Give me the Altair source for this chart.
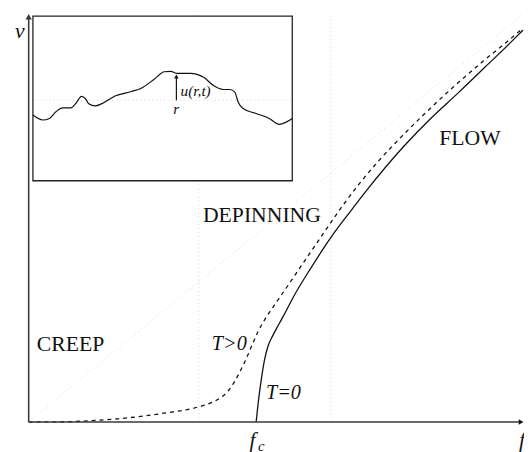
import altair as alt
import pandas as pd

# ---- data (units: f along x, v along y) ----
T_pos_f = [0.0, 0.31, 0.61, 1.01, 1.377, 1.71, 1.86, 1.96, 2.03, 2.09, 2.15, 2.21, 2.27,
           2.33, 2.40, 2.48, 2.57, 2.71, 2.87, 3.03, 3.19, 3.35, 3.53, 3.73, 4.01, 4.31,
           4.61, 4.843, 5.02]
T_pos_v = [0.0, 0.002, 0.012, 0.043, 0.09, 0.15, 0.20, 0.255, 0.32, 0.41, 0.52, 0.645, 0.785,
           0.92, 1.045, 1.165, 1.295, 1.50, 1.735, 1.97, 2.20, 2.41, 2.625, 2.84, 3.12, 3.40,
           3.66, 3.85, 4.00]

T_zero_f = [2.31, 2.335, 2.365, 2.395, 2.43, 2.48, 2.545, 2.61, 2.677, 2.87, 3.08, 3.26,
            3.43, 3.81, 4.08, 4.37, 4.63, 4.89, 5.02]
T_zero_v = [0.0, 0.23, 0.45, 0.63, 0.77, 0.88, 1.0, 1.12, 1.25, 1.57, 1.89, 2.13,
            2.35, 2.80, 3.08, 3.35, 3.60, 3.85, 3.98]

wave_r = [0.043, 0.143, 0.21, 0.277, 0.343, 0.427, 0.477, 0.537, 0.577, 0.61, 0.677,
          0.743, 0.877, 1.043, 1.143, 1.277, 1.377, 1.443, 1.51, 1.643, 1.777, 1.877,
          1.977, 2.043, 2.093, 2.127, 2.177, 2.31, 2.443, 2.543, 2.61, 2.677]
wave_u = [3.117, 3.067, 3.083, 3.15, 3.19, 3.19, 3.233, 3.307, 3.283, 3.233, 3.21,
          3.233, 3.31, 3.357, 3.39, 3.483, 3.557, 3.56, 3.54, 3.54, 3.5, 3.417,
          3.377, 3.377, 3.35, 3.25, 3.183, 3.133, 3.083, 3.023, 3.043, 3.083]

F_MAX = 5.03
V_MAX = 4.15
guide_f = [1.73, 3.07]          # faint vertical guides
inset_box = [0.043, 2.677, 2.45, 4.123]   # f0, f1, v0, v1
inset_base_v = 3.267
inset_arrow_f = 1.5
inset_arrow_top = 3.54

region_labels = ["CREEP", "DEPINNING", "FLOW"]
region_f = [0.083, 1.77, 4.17]
region_v = [0.717, 2.03, 2.817]

temp_labels = ["T>0", "T=0"]
temp_f = [1.86, 2.41]
temp_v = [0.727, 0.233]

xs = alt.Scale(domain=[0, F_MAX], nice=False, zero=False)
ys = alt.Scale(domain=[0, V_MAX], nice=False, zero=False)


def X(field="f"):
    return alt.X(f"{field}:Q", scale=xs, axis=None)


def Y(field="v"):
    return alt.Y(f"{field}:Q", scale=ys, axis=None)


SERIF = "Liberation Serif, Times New Roman, serif"
AX = "#3a3a3a"
FAINT = "#d6d6d6"

# faint guides
vguides = pd.DataFrame({"f": guide_f, "v": [0.0] * 2, "v2": [V_MAX] * 2})
vguide_layer = alt.Chart(vguides).mark_rule(color=FAINT, strokeDash=[1, 3], strokeWidth=1).encode(
    x=X(), y=Y(), y2="v2:Q")
diag = pd.DataFrame({"f": [0.0], "v": [0.0], "f2": [F_MAX], "v2": [V_MAX]})
diag_layer = alt.Chart(diag).mark_rule(color=FAINT, strokeDash=[1, 3], strokeWidth=1).encode(
    x=X(), y=Y(), x2="f2:Q", y2="v2:Q")

# inset
box = pd.DataFrame({"f": [inset_box[0]], "f2": [inset_box[1]], "v": [inset_box[2]], "v2": [inset_box[3]]})
box_layer = alt.Chart(box).mark_rect(fill="white", stroke="#222", strokeWidth=1.3).encode(
    x=X(), x2="f2:Q", y=Y(), y2="v2:Q")
base_line = pd.DataFrame({"f": [inset_box[0] + 0.01], "f2": [inset_box[1] - 0.01], "v": [inset_base_v]})
base_layer = alt.Chart(base_line).mark_rule(color=FAINT, strokeDash=[1, 3], strokeWidth=1).encode(
    x=X(), x2="f2:Q", y=Y())
wave = pd.DataFrame({"f": wave_r, "v": wave_u})
wave_layer = alt.Chart(wave).mark_line(color="#111", strokeWidth=1.2, interpolate="monotone").encode(
    x=X(), y=Y())
arrow = pd.DataFrame({"f": [inset_arrow_f], "v": [inset_base_v], "v2": [inset_arrow_top - 0.04]})
arrow_layer = alt.Chart(arrow).mark_rule(color="#111", strokeWidth=1.2).encode(x=X(), y=Y(), y2="v2:Q")
arrow_head = alt.Chart(pd.DataFrame({"f": [inset_arrow_f], "v": [inset_arrow_top - 0.03]})).mark_point(
    shape="triangle-up", filled=True, size=22, color="#111", opacity=1).encode(x=X(), y=Y())
inset_text = pd.DataFrame({"f": [1.543, 1.467], "v": [3.31, 3.133], "t": ["u(r,t)", "r"]})
inset_text_layer = alt.Chart(inset_text).mark_text(
    font=SERIF, fontStyle="italic", fontSize=15.5, align="left", baseline="alphabetic", color="#111").encode(
    x=X(), y=Y(), text="t:N")

# curves
tpos = pd.DataFrame({"f": T_pos_f, "v": T_pos_v})
tpos_layer = alt.Chart(tpos).mark_line(color="#111", strokeWidth=1.3, strokeDash=[4, 4],
                                       interpolate="monotone").encode(x=X(), y=Y())
tzero = pd.DataFrame({"f": T_zero_f, "v": T_zero_v})
tzero_layer = alt.Chart(tzero).mark_line(color="#111", strokeWidth=1.3,
                                         interpolate="monotone").encode(x=X(), y=Y())

# axes
axes = pd.DataFrame({"f": [0.0, 0.0], "v": [0.0, 0.0], "f2": [5.0, 0.0], "v2": [0.0, 4.1]})
axes_layer = alt.Chart(axes).mark_rule(color=AX, strokeWidth=1.6).encode(
    x=X(), y=Y(), x2="f2:Q", y2="v2:Q")
yhead = alt.Chart(pd.DataFrame({"f": [0.0], "v": [4.115]})).mark_point(
    shape="triangle-up", filled=True, size=40, color=AX, opacity=1).encode(x=X(), y=Y())
xhead = alt.Chart(pd.DataFrame({"f": [5.0], "v": [0.0]})).mark_point(
    shape="triangle-right", filled=True, size=30, color="#111", opacity=1).encode(x=X(), y=Y())

# labels
regions = pd.DataFrame({"f": region_f, "v": region_v, "t": region_labels})
region_layer = alt.Chart(regions).mark_text(
    font=SERIF, fontSize=22, align="left", baseline="alphabetic", color="#111").encode(
    x=X(), y=Y(), text="t:N")
temps = pd.DataFrame({"f": temp_f, "v": temp_v, "t": temp_labels})
temp_layer = alt.Chart(temps).mark_text(
    font=SERIF, fontStyle="italic", fontSize=20.5, align="left", baseline="alphabetic", color="#111").encode(
    x=X(), y=Y(), text="t:N")
axis_lbl = pd.DataFrame({"f": [-0.14, 4.98, 2.243], "v": [3.9, -0.25, -0.25], "t": ["v", "f", "f"]})
axis_lbl_layer = alt.Chart(axis_lbl).mark_text(
    font=SERIF, fontStyle="italic", fontSize=22, align="left", baseline="alphabetic", color="#111").encode(
    x=X(), y=Y(), text="t:N")
sub_lbl = alt.Chart(pd.DataFrame({"f": [2.33], "v": [-0.29], "t": ["c"]})).mark_text(
    font=SERIF, fontStyle="italic", fontSize=15, align="left", baseline="alphabetic", color="#111").encode(
    x=X(), y=Y(), text="t:N")

chart = alt.layer(
    vguide_layer, diag_layer, box_layer, base_layer, wave_layer, arrow_layer, arrow_head,
    inset_text_layer, tpos_layer, tzero_layer, axes_layer, yhead, xhead,
    region_layer, temp_layer, axis_lbl_layer, sub_lbl,
).properties(
    width=503, height=415,
    padding={"left": 21, "top": 2, "right": 0, "bottom": 27},
    autosize=alt.AutoSizeParams(type="none"),
    background="white",
).configure_view(stroke=None)

chart.save("out.html", embed_options={"renderer": "svg", "actions": False})
